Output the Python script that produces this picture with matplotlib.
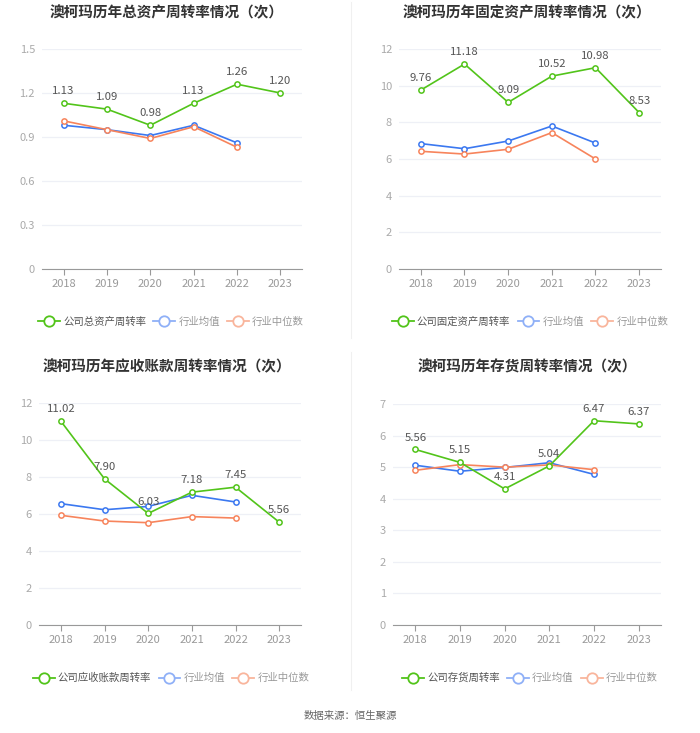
import matplotlib
matplotlib.use('Agg')
import matplotlib.pyplot as plt
from matplotlib.lines import Line2D

plt.rcParams['font.family'] = ['Noto Sans CJK SC', 'DejaVu Sans']

years = ['2018', '2019', '2020', '2021', '2022', '2023']

# 总资产周转率
total_co = [1.13, 1.09, 0.98, 1.13, 1.26, 1.20]
total_avg = [0.98, 0.95, 0.91, 0.98, 0.86]
total_med = [1.01, 0.95, 0.89, 0.97, 0.83]

# 固定资产周转率
fixed_co = [9.76, 11.18, 9.09, 10.52, 10.98, 8.53]
fixed_avg = [6.84, 6.56, 6.98, 7.80, 6.87]
fixed_med = [6.42, 6.27, 6.53, 7.44, 6.00]

# 应收账款周转率
recv_co = [11.02, 7.90, 6.03, 7.18, 7.45, 5.56]
recv_avg = [6.56, 6.23, 6.41, 7.01, 6.65]
recv_med = [5.93, 5.62, 5.53, 5.86, 5.78]

# 存货周转率
inv_co = [5.56, 5.15, 4.31, 5.04, 6.47, 6.37]
inv_avg = [5.06, 4.87, 4.99, 5.14, 4.77]
inv_med = [4.90, 5.08, 5.00, 5.07, 4.92]

GREEN = '#52c41a'
BLUE = '#3b78f0'
ORANGE = '#f7845c'
W, H = 700, 733

fig = plt.figure(figsize=(W / 100, H / 100), dpi=100)


def rect(x0, y0, x1, y1):
  return [x0 / W, 1 - y1 / H, (x1 - x0) / W, (y1 - y0) / H]


def panel(box, title, title_xy, co, avg, med, yticks, co_name, leg_xy):
  ax = fig.add_axes(rect(*box))
  xs = list(range(len(years)))
  ax.plot(xs[:len(avg)], avg, color=BLUE, lw=1.2, marker='o', ms=3.8,
          mfc='white', mec=BLUE, mew=1.1, zorder=3)
  ax.plot(xs[:len(med)], med, color=ORANGE, lw=1.2, marker='o', ms=3.8,
          mfc='white', mec=ORANGE, mew=1.1, zorder=3)
  ax.plot(xs, co, color=GREEN, lw=1.2, marker='o', ms=3.8,
          mfc='white', mec=GREEN, mew=1.1, zorder=4)
  for x, v in zip(xs, co):
    ax.annotate('%.2f' % v, (x, v), xytext=(0, 5), textcoords='offset points',
                ha='center', va='bottom', fontsize=8.2, color='#555555', zorder=5)
  ax.set_xlim(-0.5, len(years) - 0.5)
  ax.set_ylim(yticks[0], yticks[-1])
  ax.set_xticks(xs)
  ax.set_xticklabels(years)
  ax.set_yticks(yticks)
  ax.set_yticklabels(['%g' % t for t in yticks])
  ax.grid(axis='y', color='#eef0f6', lw=0.9)
  ax.set_axisbelow(True)
  for s in ['top', 'right', 'left']:
    ax.spines[s].set_visible(False)
  ax.spines['bottom'].set_color('#999999')
  ax.tick_params(axis='y', length=0, pad=5, labelsize=8, labelcolor='#aaaaaa')
  ax.tick_params(axis='x', length=4, color='#999999', pad=3,
                 labelsize=8, labelcolor='#999999')
  fig.text(title_xy[0] / W, 1 - title_xy[1] / H, title, ha='center', va='center',
           fontsize=10.5, fontweight='bold', color='#333333')
  handles = [
    Line2D([], [], color=GREEN, lw=1.3, marker='o', ms=7.5, mfc='white', mec=GREEN, mew=1.3),
    Line2D([], [], color='#8fb0f7', lw=1.3, marker='o', ms=7.5, mfc='white', mec='#8fb0f7', mew=1.3),
    Line2D([], [], color='#f9b59c', lw=1.3, marker='o', ms=7.5, mfc='white', mec='#f9b59c', mew=1.3),
  ]
  leg = fig.legend(handles, [co_name, '行业均值', '行业中位数'], loc='center',
                   bbox_to_anchor=(leg_xy[0] / W, 1 - leg_xy[1] / H), ncol=3,
                   frameon=False, fontsize=7.5, handlelength=2.1, handletextpad=0.3,
                   columnspacing=0.7)
  cols = ['#555555', '#999999', '#999999']
  for t, c in zip(leg.get_texts(), cols):
    t.set_color(c)
  return ax


panel((42, 49, 302, 269), '澳柯玛历年总资产周转率情况（次）', (167, 12),
      total_co, total_avg, total_med, [0, 0.3, 0.6, 0.9, 1.2, 1.5],
      '公司总资产周转率', (171, 322))
panel((399, 49, 661, 269), '澳柯玛历年固定资产周转率情况（次）', (527, 12),
      fixed_co, fixed_avg, fixed_med, [0, 2, 4, 6, 8, 10, 12],
      '公司固定资产周转率', (530, 322))
panel((39, 403, 301, 625), '澳柯玛历年应收账款周转率情况（次）', (167, 366),
      recv_co, recv_avg, recv_med, [0, 2, 4, 6, 8, 10, 12],
      '公司应收账款周转率', (171, 678))
panel((393, 404, 661, 625), '澳柯玛历年存货周转率情况（次）', (527, 366),
      inv_co, inv_avg, inv_med, [0, 1, 2, 3, 4, 5, 6, 7],
      '公司存货周转率', (530, 678))

# thin separators
fig.add_artist(Line2D([351 / W, 351 / W], [1 - 2 / H, 1 - 338 / H], color='#f0f0f0', lw=0.8))
fig.add_artist(Line2D([351 / W, 351 / W], [1 - 352 / H, 1 - 690 / H], color='#f0f0f0', lw=0.8))

fig.text(350 / W, 1 - 716 / H, '数据来源：恒生聚源', ha='center', va='center',
         fontsize=7.5, color='#666666')

fig.savefig('out.png', dpi=100, facecolor='white')
